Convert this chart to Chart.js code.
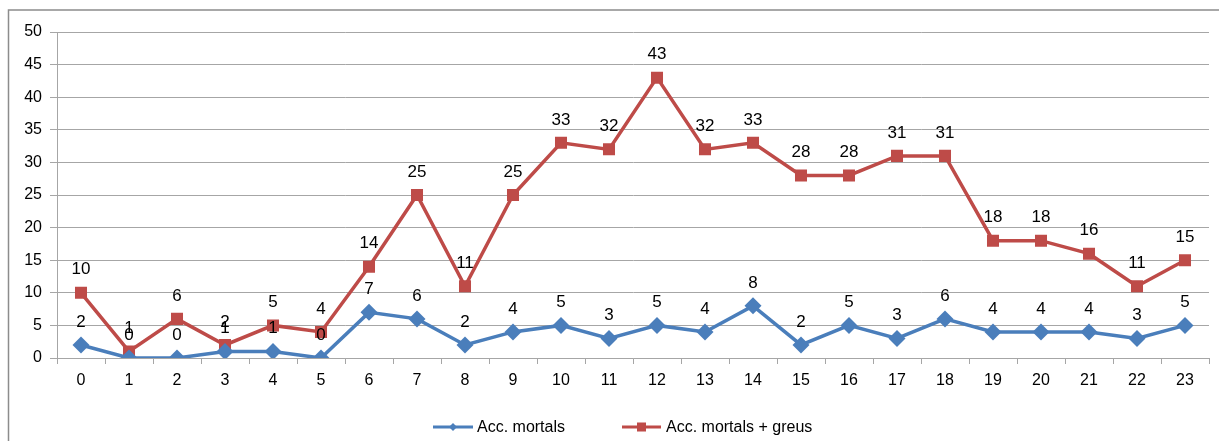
<!DOCTYPE html>
<html>
<head>
<meta charset="utf-8">
<script src="https://cdn.jsdelivr.net/npm/chart.js@4/dist/chart.umd.min.js"></script>
<style>
html,body{margin:0;padding:0;background:#fff;}
#wrap{position:relative;width:1219px;height:441px;}
</style>
</head>
<body>
<div id="wrap"><canvas id="c" width="1219" height="441"></canvas></div>
<script>
const categories = ["0","1","2","3","4","5","6","7","8","9","10","11","12","13","14","15","16","17","18","19","20","21","22","23"];
const mortals = [2,0,0,1,1,0,7,6,2,4,5,3,5,4,8,2,5,3,6,4,4,4,3,5];
const mortalsGreus = [10,1,6,2,5,4,14,25,11,25,33,32,43,32,33,28,28,31,31,18,18,16,11,15];
const seriesNames = ["Acc. mortals", "Acc. mortals + greus"];
const yTicks = [0,5,10,15,20,25,30,35,40,45,50];

const BLUE = '#4A7EBB';
const RED = '#BE4B48';
const GRID = '#a6a6a6';
const FONT = '"Liberation Sans", Arial, sans-serif';

const framePlugin = {
  id: 'frame',
  beforeDraw(chart) {
    const ctx = chart.ctx;
    ctx.save();
    ctx.strokeStyle = '#8c8c8c';
    ctx.lineWidth = 1.5;
    ctx.beginPath();
    ctx.moveTo(8.5, 445);
    ctx.lineTo(8.5, 10);
    ctx.lineTo(1225, 10);
    ctx.stroke();
    ctx.restore();
  }
};

const labelPlugin = {
  id: 'labels',
  afterDatasetsDraw(chart) {
    const ctx = chart.ctx;
    ctx.save();
    ctx.font = '17px ' + FONT;
    ctx.fillStyle = '#000';
    ctx.textAlign = 'center';
    ctx.textBaseline = 'middle';
    chart.data.datasets.forEach((ds, i) => {
      const meta = chart.getDatasetMeta(i);
      meta.data.forEach((pt, j) => {
        ctx.fillText(String(ds.data[j]), pt.x, pt.y - 23);
      });
    });
    ctx.restore();
  }
};

const legendPlugin = {
  id: 'customLegend',
  afterDraw(chart) {
    const ctx = chart.ctx;
    ctx.save();
    const y = 427;
    ctx.lineWidth = 3;
    ctx.strokeStyle = BLUE;
    ctx.beginPath(); ctx.moveTo(433, y); ctx.lineTo(473, y); ctx.stroke();
    ctx.fillStyle = BLUE;
    ctx.beginPath(); ctx.moveTo(453, y - 4); ctx.lineTo(457, y); ctx.lineTo(453, y + 4); ctx.lineTo(449, y); ctx.closePath(); ctx.fill();
    ctx.strokeStyle = RED;
    ctx.beginPath(); ctx.moveTo(622, y); ctx.lineTo(661, y); ctx.stroke();
    ctx.fillStyle = RED;
    ctx.fillRect(637, y - 4.5, 9, 9);
    ctx.font = '16px ' + FONT;
    ctx.fillStyle = '#000';
    ctx.textAlign = 'left';
    ctx.textBaseline = 'middle';
    ctx.fillText(seriesNames[0], 477, y + 1);
    ctx.fillText(seriesNames[1], 666, y + 1);
    ctx.restore();
  }
};

new Chart(document.getElementById('c'), {
  type: 'line',
  data: {
    labels: categories,
    datasets: [
      {
        label: seriesNames[0],
        data: mortals,
        borderColor: BLUE,
        backgroundColor: BLUE,
        borderWidth: 3.5,
        pointStyle: 'rectRot',
        pointRadius: 8.5,
        pointHoverRadius: 8.5,
        pointBorderWidth: 0,
        tension: 0
      },
      {
        label: seriesNames[1],
        data: mortalsGreus,
        borderColor: RED,
        backgroundColor: RED,
        borderWidth: 3.5,
        pointStyle: 'rect',
        pointRadius: 8.5,
        pointHoverRadius: 8.5,
        pointBorderWidth: 0,
        tension: 0
      }
    ]
  },
  options: {
    responsive: false,
    animation: false,
    layout: { padding: { left: 0, right: 10, top: 32, bottom: 0 } },
    plugins: {
      legend: { display: false },
      tooltip: { enabled: false }
    },
    scales: {
      x: {
        type: 'category',
        offset: true,
        grid: { offset: true, drawOnChartArea: false, drawTicks: true, tickLength: 6, color: GRID },
        border: { color: GRID, width: 1 },
        ticks: { font: { size: 16, family: FONT }, color: '#000', padding: 7, maxRotation: 0, autoSkip: false },
        afterFit: s => { s.height = 83; }
      },
      y: {
        min: 0,
        max: 50,
        afterBuildTicks: s => { s.ticks = yTicks.map(v => ({ value: v })); },
        grid: { color: GRID, tickLength: 7 },
        border: { color: GRID, width: 1 },
        ticks: { font: { size: 16, family: FONT }, color: '#000', padding: 8 },
        afterFit: s => { s.width = 57; }
      }
    }
  },
  plugins: [framePlugin, labelPlugin, legendPlugin]
});
</script>
</body>
</html>
